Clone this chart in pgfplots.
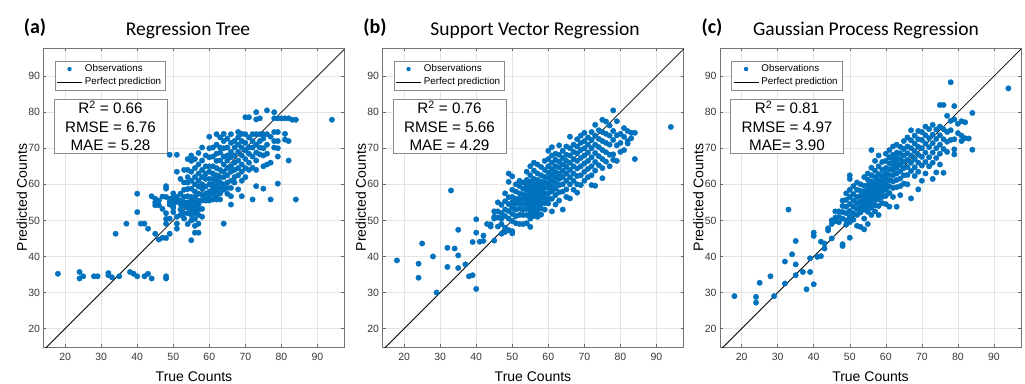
\documentclass[border=0pt]{standalone}
\usepackage{fontspec}
\setmainfont{Liberation Sans}
\newfontfamily\carlito{Carlito}
\usepackage{pgfplots}
\pgfplotsset{compat=1.18}
\definecolor{mblue}{RGB}{0,114,189}
\tikzset{statbox/.style={draw=black!45, fill=white, line width=0.6pt, minimum width=113pt, minimum height=54pt,
   align=center, inner sep=0pt, font=\fontsize{15.2}{18.5}\selectfont}}
\pgfplotsset{
 myax/.style={
  scale only axis, width=301pt, height=299pt,
  xmin=14, xmax=97.5, ymin=14.9, ymax=97.8,
  xtick={20,30,...,90}, ytick={20,30,...,90},
  grid=major, grid style={color=black!11, line width=0.5pt},
  axis line style={color=black!55, line width=0.6pt},
  tick style={color=black!60, line width=0.5pt}, tick align=inside, major tick length=3pt,
  ticklabel style={font=\fontsize{10.5}{12}\selectfont, color=black!78},
  xticklabel style={yshift=-2.5pt},
  /pgf/number format/assume math mode=true,
  xlabel={True Counts}, ylabel={Predicted Counts},
  label style={font=\fontsize{14}{16}\selectfont},
  xlabel style={at={(axis description cs:0.5,-0.0987)}, anchor=center},
  ylabel style={at={(axis description cs:-0.072,0.5)}, anchor=center},
  legend style={at={(axis description cs:0.038,0.957)}, anchor=north west, font=\fontsize{9.8}{11}\selectfont,
    draw=black!45, inner xsep=1.5pt, inner ysep=1.5pt, row sep=0pt,
    nodes={text height=7pt, text depth=2pt, inner ysep=2pt, inner xsep=2.5pt},
    cells={anchor=west}},
 },
 obs/.style={only marks, mark=*, mark size=2.7pt, color=mblue, mark options={draw=mblue, fill=mblue},
   legend image code/.code={\fill[mblue, draw=none] (12.5pt,0pt) circle (2.2pt);\path[draw=none, fill=none] (0pt,0pt) -- (25pt,0pt);}},
 perf/.style={black, line width=0.8pt,
   legend image code/.code={\draw[black, line width=0.8pt] (0pt,0pt) -- (25pt,0pt);}},
}
\begin{document}
\begin{tikzpicture}
\path[use as bounding box] (0,0) rectangle (1025pt,383pt);
% ---------------- (a)
\begin{axis}[myax, at={(43.5pt,36pt)}]
\addplot[obs] coordinates {
(18,35.2)(24,35.7)(24,33.9)(25,34.5)(28,34.5)(29,34.5)(32,35.4)(32,34.8)(33,34.2)(35,34.5)(38,35.7)(39,35.2)(40,34.5)(42,34.5)(43,35.2)(44,33.9)(48,34.5)(48,33.9)
(34,46.3)(37,49.1)(40,57.4)(40,52.3)(41,49.1)(42,49.1)(43,47.7)(44,56.7)(45,56)(45,55)(45,54.2)(45,46.3)(46,55.5)(46,54.2)(46,44.7)(47,56.6)(47,53.2)(47,45.2)(48,59.5)(48,58.8)(48,56.5)(48,52)(48,50.4)(48,49.1)(48,45.1)
(49,68.2)(49,56)(49,55.2)(49,54.4)(49,50.5)(49,46.3)
(50,57.5)(50,56.5)(50,55.5)(50,54.4)(50,53.5)(50,52.3)
(51,68.2)(51,63.5)(51,56.5)(51,55.2)(51,51)(51,49.1)(51,47.7)
(52,61.5)(52,57.4)(52,55.5)(52,54.5)(52,53)(52,51.5)
(53,64)(53,60.5)(53,58.5)(53,56.5)(53,55)(53,54)(53,52)(53,50.5)
(54,67)(54,64)(54,62)(54,60.5)(54,58.7)(54,56.7)(54,55)(54,53.5)(54,52)(54,49)
(55,68)(55,66.5)(55,63.5)(55,61)(55,58.8)(55,56.5)(55,55.5)(55,54)(55,53)(55,51.5)(55,50)(55,44.5)
(56,67)(56,64.5)(56,62)(56,60)(56,58)(56,56.5)(56,55)(56,54)(56,53)(56,52)(56,50.4)(56,48.5)(56,46.6)
(57,68.7)(57,65.5)(57,63)(57,61)(57,59.4)(57,57.4)(57,55.5)(57,54.4)(57,53)(57,51.5)(57,49.1)(57,46.6)
(58,70.2)(58,66.6)(58,64)(58,62)(58,60)(58,58.8)(58,57)(58,55.5)(58,53.2)(58,51)
(59,68)(59,65)(59,63)(59,61.5)(59,59.4)(59,57.5)(59,56)(59,55.5)
(60,73.2)(60,70)(60,67.5)(60,65)(60,63.5)(60,61.5)(60,60)(60,58)(60,56.5)(60,55.5)
(61,70.2)(61,67.7)(61,65)(61,63)(61,61.5)(61,60)(61,58.8)(61,57.4)(61,55.8)
(62,73.9)(62,71)(62,68.5)(62,66.5)(62,64.5)(62,62.5)(62,61)(62,59.5)(62,58)(62,56.5)(62,55.8)
(63,73)(63,70.2)(63,68.8)(63,66.6)(63,64)(63,62)(63,60.5)(63,59)(63,57.5)(63,55.8)
(64,74)(64,72)(64,70)(64,67.7)(64,65.5)(64,63.5)(64,62)(64,60)(64,58.5)(64,49.1)
(65,72.7)(65,70.2)(65,68)(65,66.6)(65,64.5)(65,62.5)(65,60.5)(65,59)(65,57.4)
(66,73.9)(66,71.5)(66,69)(66,67.5)(66,65)(66,63.5)(66,61)(66,59)(66,56.7)(66,54.4)
(67,72)(67,70.2)(67,68)(67,66)(67,64)(67,62)(67,60.5)
(68,74.5)(68,73)(68,71)(68,69)(68,66.6)(68,64.5)(68,62.5)(68,58.6)
(69,74)(69,72)(69,70.2)(69,68)(69,65.5)(69,63.5)(69,61)(69,56.7)
(70,78.6)(70,73.9)(70,71.5)(70,69.4)(70,67)(70,64.5)(70,62)
(71,78.6)(71,73)(71,70.2)(71,68.5)(71,66)(71,64)
(72,73.9)(72,72)(72,70.2)(72,67.7)(72,64.6)(72,55.8)
(73,80)(73,78)(73,73.9)(73,71)(73,68.8)(73,66.6)(73,64)(73,59.5)
(74,78.3)(74,73.9)(74,72)(74,70.2)(74,68.3)
(75,73.9)(75,72.7)(75,70)(75,68)(75,65)(75,58.8)
(76,80.5)(76,73.9)(76,71)(76,68.5)(76,65.5)
(77,73.2)(77,66)(77,55.8)
(78,80)(78,78.3)(78,74.5)(78,72)(78,70.2)
(79,78.3)(79,74.5)(79,72)(79,70)(79,67.7)(79,60.2)
(80,78.3)(81,78.3)(81,74)(81,72.4)(82,78.3)(82,72)(82,66.6)(83,77.9)(84,77.9)(84,55.8)(94,77.9)
};
\addlegendentry{Observations}
\addplot[perf] coordinates {(10,10) (100,100)};
\addlegendentry{Perfect prediction}
\node[statbox] at (rel axis cs:0.2226,0.739) {R\textsuperscript{2} = 0.66\\RMSE = 6.76\\MAE = 5.28};
\end{axis}
% ---------------- (b)
\begin{axis}[myax, at={(382.5pt,36pt)}]
\addplot[obs] coordinates {
(18,38.9)(24,38)(24,34.1)(25,43.6)(28,40)(29,30)(32,42.4)(32,37.1)(33,58.3)(34,42.2)(35,47.4)(35,40.3)(35,36.8)(37,37.8)(38,34.5)(39,34.8)(39,44)(40,50.3)(40,46.6)(40,31)(41,44.1)(42,44.3)(42,45.8)(43,49)(44,48.9)(44,48.3)(45,44.4)(45,52.5)(45,50.5)(45,51)
(46,55)(46,52.5)(46,50.8)(46,48.3)(47,54.3)(47,52)(47,50.5)(47,49)(47,46.3)
(48,57.5)(48,55.3)(48,53)(48,51.2)(48,48)(48,46.8)
(49,63)(49,60.7)(49,56.4)(49,54.5)(49,52.6)(49,50.5)(49,47.3)
(50,62.2)(50,58.5)(50,56.5)(50,55)(50,53.5)(50,51.8)(50,49.8)(50,47)(50,46.4)
(51,60)(51,58)(51,56)(51,54.6)(51,53)(51,51.2)(51,49.2)
(52,61)(52,59.5)(52,57.5)(52,56)(52,54.8)(52,53.3)(52,51.5)(52,49)
(53,60.5)(53,58.8)(53,57.2)(53,55.9)(53,54.5)(53,53)(53,51.5)(53,49)
(54,63.5)(54,61.2)(54,59.8)(54,58.4)(54,57)(54,55.8)(54,54.6)(54,53.2)(54,51.5)(54,49.2)
(55,65)(55,62.5)(55,60.8)(55,59.5)(55,58.3)(55,57.2)(55,56.2)(55,55.2)(55,54.2)(55,53)(55,51.8)(55,50.5)(55,48.2)
(56,66)(56,63.8)(56,61.5)(56,60)(56,58.8)(56,57.8)(56,56.8)(56,55.8)(56,54.8)(56,53.6)(56,52.5)(56,51.2)
(57,65.5)(57,63)(57,61.2)(57,60)(57,58.8)(57,57.6)(57,56.5)(57,55.5)(57,54.5)(57,53.4)(57,52.2)(57,51)
(58,64.8)(58,62.5)(58,60.8)(58,59.5)(58,58.2)(58,57)(58,55.8)(58,54.6)(58,53.3)(58,51.6)
(59,66.5)(59,64)(59,62)(59,60.5)(59,59)(59,57.5)(59,56.2)(59,54.8)(59,53)
(60,69.3)(60,67)(60,65)(60,63.2)(60,61.8)(60,60.3)(60,59)(60,57.5)(60,56)(60,54.7)
(61,70.3)(61,68)(61,66)(61,64.2)(61,62.6)(61,61)(61,59.5)(61,58)(61,56)(61,52.5)
(62,68.5)(62,66.8)(62,65)(62,63.4)(62,62)(62,60.4)(62,58.8)(62,57)(62,54.4)
(63,70.8)(63,68.2)(63,66.3)(63,64.7)(63,63)(63,61.5)(63,59.8)(63,57.8)(63,55.5)
(64,69.3)(64,67.3)(64,65.5)(64,63.7)(64,62)(64,60)(64,58)(64,53)
(65,70.5)(65,68.2)(65,66.5)(65,64.8)(65,63)(65,61)(65,58.6)(65,56.5)
(66,73.2)(66,70)(66,68)(66,66)(66,64)(66,62)(66,60)(66,56.1)
(67,71)(67,69)(67,67)(67,65)(67,63)(67,61)(67,58.5)
(68,72.5)(68,70.5)(68,68.6)(68,66.5)(68,64.4)(68,62.3)(68,60)(68,57.7)
(69,73.5)(69,71.5)(69,69.5)(69,67.3)(69,65)(69,62.5)(69,59.8)
(70,74.3)(70,72)(70,70)(70,68)(70,65.8)(70,63.5)(70,61)
(71,73)(71,71)(71,68.8)(71,66.5)(71,64.3)(71,62)
(72,74.5)(72,72.3)(72,70)(72,67.5)(72,65)(72,62.5)(72,59.8)
(73,76.5)(73,73.5)(73,71)(73,68.7)(73,66.2)(73,63.8)(73,59.6)
(74,75)(74,72.6)(74,70.3)(74,67.8)(74,65.3)
(75,77.9)(75,74.5)(75,72)(75,69.5)(75,67)(75,64.5)(75,61.7)
(76,77.4)(76,74)(76,71.5)(76,68.9)(76,66.3)
(77,76.3)(77,73.5)(77,71)(77,68.2)(77,65)
(78,80.5)(78,74.8)(78,72.3)(78,68.3)(78,66.8)
(79,77.5)(79,73.6)(79,70.8)(79,66.5)
(80,74)(80,71.5)(80,69)
(81,75.6)(81,73.2)(81,69.5)
(82,74.8)(82,72)(82,71.3)
(83,74.3)(83,72.8)
(84,74.3)(84,67)
(94,75.9)
};
\addlegendentry{Observations}
\addplot[perf] coordinates {(10,10) (100,100)};
\addlegendentry{Perfect prediction}
\node[statbox] at (rel axis cs:0.2226,0.739) {R\textsuperscript{2} = 0.76\\RMSE = 5.66\\MAE = 4.29};
\end{axis}
% ---------------- (c)
\begin{axis}[myax, at={(720pt,36pt)}]
\addplot[obs] coordinates {
(18,29)(24,28.8)(24,27.2)(25,32.7)(28,34.5)(29,29)(32,38.6)(32,32.5)(33,53)(34,40.6)(35,44.3)(35,37.8)(35,34.8)(37,35.7)(38,30.9)(39,39.5)(39,35.7)(40,46.6)(40,45.7)(40,32.3)(41,39.9)(42,40.1)(42,44.1)(43,43.6)(43,42.2)(44,47.8)
(44,47.2)(45,45)(45,50)(45,49)(46,50.8)(46,52.5)(46,49.8)(47,52.5)(47,51)(47,49.5)
(48,55.5)(48,54)(48,52.3)(48,50.5)(48,43.4)(48,42.9)
(49,57.5)(49,55.7)(49,53.8)(49,52)(49,50)(49,48.8)
(50,62.5)(50,61.5)(50,58.5)(50,56.5)(50,54.5)(50,52.6)(50,51)(50,49.5)(50,45.2)
(51,59.5)(51,57.3)(51,55.5)(51,53.8)(51,52)(51,50.2)
(52,60.5)(52,58.5)(52,56.5)(52,54.8)(52,53.2)(52,51.5)(52,48.5)
(53,60)(53,58.2)(53,56.8)(53,55.3)(53,53.8)(53,52.2)(53,48.2)
(54,62)(54,59.6)(54,58)(54,56.8)(54,55.6)(54,54.4)(54,53)(54,50.5)(54,47.5)
(55,63)(55,61.3)(55,59.8)(55,58.5)(55,57.3)(55,56.2)(55,55)(55,53.8)(55,52.4)(55,49)
(56,69.5)(56,64.6)(56,62.5)(56,60.8)(56,59.5)(56,58.3)(56,57.2)(56,56)(56,54.8)(56,53.5)(56,51.5)
(57,66.5)(57,63.8)(57,62)(57,60.5)(57,59.2)(57,58)(57,56.8)(57,55.6)(57,54.2)(57,52.5)
(58,68)(58,65)(58,62.8)(58,61.2)(58,59.8)(58,58.5)(58,57.2)(58,55.8)(58,54)(58,51.5)
(59,66.2)(59,64)(59,62.3)(59,60.8)(59,59.4)(59,58)(59,56.5)(59,54.8)
(60,68.5)(60,66.5)(60,64.5)(60,63)(60,61.5)(60,60)(60,58.5)(60,56.8)(60,54.5)
(61,69.5)(61,67.5)(61,65.8)(61,64.2)(61,62.6)(61,61)(61,59.4)(61,57.6)(61,53.8)
(62,70.5)(62,68.2)(62,66.8)(62,65.4)(62,64)(62,62.5)(62,60.8)(62,59)(62,56.5)
(63,71)(63,68.8)(63,67.4)(63,66)(63,64.6)(63,63)(63,61.2)(63,59.2)(63,53.8)
(64,70.4)(64,68.6)(64,67)(64,65.4)(64,63.6)(64,61.6)(64,59.5)(64,57)
(65,72)(65,69.8)(65,68)(65,66.3)(65,64.5)(65,62.5)(65,60.2)
(66,73)(66,70.5)(66,68.6)(66,66.8)(66,64.8)(66,62.6)(66,60)
(67,75)(67,72.2)(67,70)(67,68)(67,66)(67,63.7)(67,56.1)
(68,73.5)(68,71.3)(68,69.2)(68,67)(68,64.7)(68,62.3)
(69,74.8)(69,72.5)(69,70.4)(69,68.2)(69,66)(69,63.5)(69,58.6)
(70,74.5)(70,72.3)(70,70)(70,67.6)(70,65.2)(70,61)
(71,76)(71,73.6)(71,71.3)(71,68.8)(71,66.2)(71,63)
(72,75.3)(72,72.8)(72,70.3)(72,67.5)(72,65)
(73,76.5)(73,73.8)(73,71.4)(73,68.8)(73,66)(73,61.5)
(74,75.2)(74,72.6)(74,70)(74,67.3)(74,63.3)
(75,82)(75,76)(75,73.6)(75,71)(75,68.5)(75,65.5)
(76,82)(76,75.3)(76,72.5)(76,69.8)(76,63.2)
(77,79)(77,74.5)(77,71.8)(77,69)
(78,88.3)(78,77.6)(78,75)(78,72.3)
(79,81.7)(79,78)(79,72.5)(79,69.7)(79,68.3)
(80,76.8)(80,74.2)
(81,77.5)(81,73.5)(81,72)
(82,77.2)(82,72.8)
(83,72.7)(84,79.8)(84,69.6)(94,86.6)
};
\addlegendentry{Observations}
\addplot[perf] coordinates {(10,10) (100,100)};
\addlegendentry{Perfect prediction}
\node[statbox] at (rel axis cs:0.2226,0.739) {R\textsuperscript{2} = 0.81\\RMSE = 4.97\\MAE= 3.90};
\end{axis}
% titles and panel letters
\node[font=\carlito\fontsize{19.5}{22}\selectfont] at (188pt,353pt) {Regression Tree};
\node[font=\carlito\fontsize{19.5}{22}\selectfont] at (535pt,353pt) {Support Vector Regression};
\node[font=\carlito\fontsize{19.5}{22}\selectfont] at (866pt,353pt) {Gaussian Process Regression};
\node[font=\carlito\bfseries\fontsize{20}{22}\selectfont] at (35pt,355pt) {(a)};
\node[font=\carlito\bfseries\fontsize{20}{22}\selectfont] at (375pt,355pt) {(b)};
\node[font=\carlito\bfseries\fontsize{20}{22}\selectfont] at (712pt,355pt) {(c)};
\end{tikzpicture}
\end{document}
